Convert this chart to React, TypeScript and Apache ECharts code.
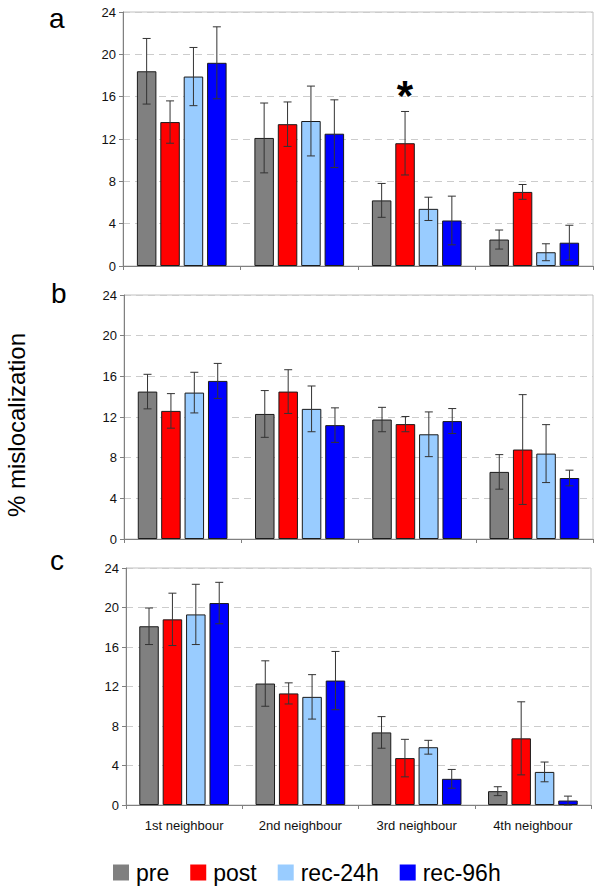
import React, { useEffect, useRef } from "react";
import * as echarts from "echarts";

const categories = ["1st neighbour", "2nd neighbour", "3rd neighbour", "4th neighbour"];
const seriesNames = ["pre", "post", "rec-24h", "rec-96h"];
const seriesColors = ["#808080", "#ff0000", "#99ccff", "#0000ff"];
const panelLetters = ["a", "b", "c"];
const yTicks = [0, 4, 8, 12, 16, 20, 24];

// Panel a
const aPre = [18.4, 12.1, 6.2, 2.5];
const aPreErr = [3.1, 3.3, 1.6, 0.9];
const aPost = [13.6, 13.4, 11.6, 7.0];
const aPostErr = [2.0, 2.1, 3.0, 0.7];
const aRec24 = [17.9, 13.7, 5.4, 1.3];
const aRec24Err = [2.75, 3.3, 1.1, 0.8];
const aRec96 = [19.2, 12.5, 4.3, 2.2];
const aRec96Err = [3.4, 3.2, 2.3, 1.65];
const aPostMarks = ["", "", "*", ""];

// Panel b
const bPre = [14.5, 12.3, 11.75, 6.6];
const bPreErr = [1.7, 2.3, 1.2, 1.7];
const bPost = [12.6, 14.5, 11.3, 8.8];
const bPostErr = [1.7, 2.15, 0.75, 5.4];
const bRec24 = [14.4, 12.8, 10.3, 8.4];
const bRec24Err = [2.0, 2.25, 2.2, 2.85];
const bRec96 = [15.55, 11.2, 11.6, 6.0];
const bRec96Err = [1.72, 1.7, 1.23, 0.77];

// Panel c
const cPre = [18.1, 12.3, 7.35, 1.4];
const cPreErr = [1.85, 2.3, 1.6, 0.45];
const cPost = [18.8, 11.3, 4.75, 6.75];
const cPostErr = [2.65, 1.07, 1.9, 3.7];
const cRec24 = [19.3, 10.95, 5.85, 3.35];
const cRec24Err = [3.05, 2.25, 0.7, 1.0];
const cRec96 = [20.45, 12.6, 2.65, 0.45];
const cRec96Err = [2.1, 2.95, 0.95, 0.45];

const FONT = "'Liberation Sans', Arial, sans-serif";

const panels = [
  { values: [aPre, aPost, aRec24, aRec96], errs: [aPreErr, aPostErr, aRec24Err, aRec96Err], marks: [null, aPostMarks, null, null] },
  { values: [bPre, bPost, bRec24, bRec96], errs: [bPreErr, bPostErr, bRec24Err, bRec96Err], marks: [null, null, null, null] },
  { values: [cPre, cPost, cRec24, cRec96], errs: [cPreErr, cPostErr, cRec24Err, cRec96Err], marks: [null, null, null, null] },
];

const grids = [
  { left: 123, right: 7, top: 12, height: 254 },
  { left: 124, right: 7, top: 295, height: 244 },
  { left: 126, right: 9, top: 568, height: 237 },
];
const letterPos = [
  { x: 49, y: 18 },
  { x: 51, y: 293 },
  { x: 50, y: 560 },
];

const BAR_W = 19.5;
const BAR_STEP = 23.4;

export default function App() {
  const ref = useRef<HTMLDivElement>(null);
  useEffect(() => {
    if (!ref.current) return;
    const chart = echarts.init(ref.current, null, { renderer: "svg" });

    const series: any[] = [];
    panels.forEach((p, pi) => {
      p.values.forEach((vals, si) => {
        series.push({
          type: "bar",
          name: seriesNames[si],
          xAxisIndex: pi,
          yAxisIndex: pi,
          data: vals,
          barWidth: BAR_W,
          barGap: "20%",
          itemStyle: { color: seriesColors[si], borderColor: "#1a1a1a", borderWidth: 1 },
        });
      });
      p.values.forEach((vals, si) => {
        const offset = (si - 1.5) * BAR_STEP;
        const marks = p.marks[si];
        series.push({
          type: "custom",
          name: seriesNames[si] + "-err",
          xAxisIndex: pi,
          yAxisIndex: pi,
          z: 5,
          data: vals.map((v, ci) => [ci, v, p.errs[si][ci]]),
          encode: { x: 0, y: 1 },
          renderItem: (params: any, api: any) => {
            const ci = api.value(0);
            const v = api.value(1);
            const e = api.value(2);
            const mark = marks ? marks[ci] : "";
            const top = api.coord([ci, v + e]);
            const bot = api.coord([ci, Math.max(0, v - e)]);
            const x = top[0] + offset;
            const st = { stroke: "#333", lineWidth: 1 };
            const children: any[] = [
              { type: "line", shape: { x1: x, y1: top[1], x2: x, y2: bot[1] }, style: st },
              { type: "line", shape: { x1: x - 4, y1: top[1], x2: x + 4, y2: top[1] }, style: st },
              { type: "line", shape: { x1: x - 4, y1: bot[1], x2: x + 4, y2: bot[1] }, style: st },
            ];
            if (mark) {
              children.push({
                type: "text",
                style: {
                  x: x,
                  y: top[1] - 16,
                  text: mark,
                  font: "bold 42px " + FONT,
                  fill: "#000",
                  textAlign: "center",
                  textVerticalAlign: "middle",
                },
              });
            }
            return { type: "group", children };
          },
        });
      });
    });

    const option: any = {
      animation: false,
      backgroundColor: "#ffffff",
      textStyle: { fontFamily: FONT },
      grid: grids.map((g) => ({
        ...g,
        show: true,
        borderColor: "#c0c0c0",
        borderWidth: 1,
        backgroundColor: "transparent",
        outerBoundsMode: "none",
      })),
      xAxis: grids.map((_, i) => ({
        type: "category",
        gridIndex: i,
        data: categories,
        axisLine: { show: true, lineStyle: { color: "#808080", width: 1 } },
        axisTick: { show: true, length: 4, lineStyle: { color: "#808080" } },
        axisLabel: {
          show: i === 2,
          fontSize: 13,
          color: "#111",
          fontFamily: FONT,
          margin: 14,
        },
        splitLine: { show: false },
      })),
      yAxis: grids.map((_, i) => ({
        type: "value",
        gridIndex: i,
        min: yTicks[0],
        max: yTicks[yTicks.length - 1],
        interval: yTicks[1] - yTicks[0],
        axisLine: { show: true, lineStyle: { color: "#808080", width: 1 } },
        axisTick: { show: true, length: 4, lineStyle: { color: "#808080" } },
        axisLabel: { fontSize: 13, color: "#111", fontFamily: FONT, margin: 7 },
        splitLine: { show: true, lineStyle: { color: "#cccccc", type: [7, 5], width: 1 } },
      })),
      legend: {
        data: seriesNames,
        left: 108,
        top: 856,
        icon: "rect",
        itemWidth: 16,
        itemHeight: 16,
        itemGap: 21,
        itemStyle: { borderWidth: 0 },
        textStyle: { fontSize: 23, color: "#000", fontFamily: FONT, padding: [0, 0, 0, 2] },
      },
      graphic: [
        ...panelLetters.map((l, i) => ({
          type: "text",
          x: letterPos[i].x,
          y: letterPos[i].y,
          style: {
            text: l,
            font: "28px " + FONT,
            fill: "#000",
            textAlign: "left",
            textVerticalAlign: "middle",
          },
        })),
        {
          type: "text",
          x: 16,
          y: 425,
          rotation: Math.PI / 2,
          style: {
            text: "% mislocalization",
            font: "24px " + FONT,
            fill: "#000",
            textAlign: "center",
            textVerticalAlign: "middle",
          },
        },
      ],
      series,
    };
    chart.setOption(option);
    return () => chart.dispose();
  }, []);

  return (
    <div
      ref={ref}
      style={{ position: "absolute", left: 0, top: 0, width: 600, height: 890, background: "#fff" }}
    />
  );
}
